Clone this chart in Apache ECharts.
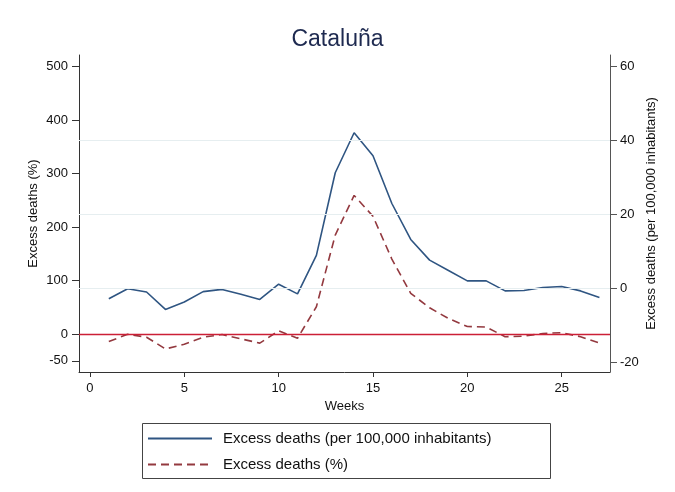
<!DOCTYPE html>
<html>
<head>
<meta charset="utf-8">
<script src="https://cdn.jsdelivr.net/npm/echarts@6/dist/echarts.min.js"></script>
<style>
html,body{margin:0;padding:0;background:#fff;}
#chart{width:675px;height:492px;}
</style>
</head>
<body>
<div id="chart"></div>
<script>
const title = 'Cataluña';
const weeks = [1,2,3,4,5,6,7,8,9,10,11,12,13,14,15,16,17,18,19,20,21,22,23,24,25,26,27];
const excessPer100k = [-2.8,-0.1,-1.0,-5.7,-3.7,-0.9,-0.3,-1.6,-3.0,1.1,-1.5,8.9,31.2,42.0,35.8,22.9,13.2,7.6,4.8,2.0,2.0,-0.7,-0.6,0.2,0.5,-0.7,-2.5];
const excessPct = [-14,-0.5,-6,-28,-19,-6,-1,-9,-17,6,-8,51,185,259,220,140,76,49,29,14,13,-5,-4,1,2.5,-5,-17];
const xTicks = [0,5,10,15,20,25];
const leftTicks = [-50,0,100,200,300,400,500];
const rightTicks = [-20,0,20,40,60];
const rightGridValues = [0,20,40];
const zeroLineValue = 0;
const seriesNames = ['Excess deaths (per 100,000 inhabitants)', 'Excess deaths (%)'];
const axisNames = {x:'Weeks', left:'Excess deaths (%)', right:'Excess deaths (per 100,000 inhabitants)'};

const FONT = '"Liberation Sans", Arial, Helvetica, sans-serif';
const chart = echarts.init(document.getElementById('chart'), null, {renderer:'canvas'});

const axisLineStyle = {show:true, onZero:false, lineStyle:{color:'#333', width:1}};
const labelStyle = {color:'#111', fontSize:13, fontFamily:FONT};

chart.setOption({
  backgroundColor:'#ffffff',
  animation:false,
  title:{
    text:title, left:'center', top:23,
    textStyle:{fontSize:23, fontWeight:'normal', color:'#1e2a50', fontFamily:FONT}
  },
  grid:{left:79, right:65, top:55, bottom:120},
  graphic:[{
    type:'rect', left:140, top:421,
    shape:{width:408, height:55},
    style:{fill:'none', stroke:'#444', lineWidth:1}
  }],
  legend:{
    orient:'vertical', left:140, top:421, padding:[10,7,6,7],
    itemWidth:64, itemHeight:14, itemGap:11,
    data:seriesNames.map(n => ({name:n, itemStyle:{opacity:0}})),
    textStyle:{fontSize:15, color:'#111', fontFamily:FONT, padding:[0,0,0,6]}
  },
  xAxis:{
    type:'value', min:-0.58, max:27.56,
    name:axisNames.x, nameLocation:'middle', nameGap:28,
    nameTextStyle:{fontSize:13, color:'#111', fontFamily:FONT},
    axisLine:axisLineStyle,
    axisTick:{show:true, length:5, customValues:xTicks, lineStyle:{color:'#333'}},
    axisLabel:Object.assign({customValues:xTicks, margin:10}, labelStyle),
    splitLine:{show:false}
  },
  yAxis:[{
    type:'value', min:-71, max:521.5, position:'left',
    name:axisNames.left, nameLocation:'middle', nameGap:39, nameRotate:90,
    nameMoveOverlap:false,
    nameTextStyle:{fontSize:13, color:'#111', fontFamily:FONT},
    axisLine:axisLineStyle,
    axisTick:{show:true, length:7, customValues:leftTicks, lineStyle:{color:'#333'}},
    axisLabel:Object.assign({customValues:leftTicks, margin:11}, labelStyle),
    splitLine:{show:false}
  },{
    type:'value', min:-22.6, max:63, position:'right',
    name:axisNames.right, nameLocation:'middle', nameGap:35, nameRotate:90,
    nameMoveOverlap:false,
    nameTextStyle:{fontSize:13, color:'#111', fontFamily:FONT},
    axisLine:{show:true, onZero:false, lineStyle:{color:'#555', width:1}},
    axisTick:{show:true, length:7, customValues:rightTicks, lineStyle:{color:'#555'}},
    axisLabel:Object.assign({customValues:rightTicks, margin:10}, labelStyle),
    splitLine:{show:false}
  }],
  series:[{
    name:'grid', type:'line', yAxisIndex:1, data:[], z:1, silent:true,
    markLine:{
      silent:true, symbol:'none', label:{show:false},
      lineStyle:{color:'#e6eef0', width:1.2, type:'solid'},
      data:rightGridValues.map(v => ({yAxis:v}))
    }
  },{
    name:seriesNames[0], type:'line', yAxisIndex:1, z:4,
    symbol:'none', showSymbol:false,
    lineStyle:{color:'#2f5582', width:1.6},
    itemStyle:{color:'#2f5582'},
    data:weeks.map((w,i) => [w, excessPer100k[i]])
  },{
    name:seriesNames[1], type:'line', yAxisIndex:0, z:3,
    symbol:'none', showSymbol:false,
    lineStyle:{color:'#93393f', width:1.6, type:[8,5]},
    itemStyle:{color:'#93393f'},
    data:weeks.map((w,i) => [w, excessPct[i]]),
    markLine:{
      silent:true, symbol:'none', label:{show:false},
      lineStyle:{color:'#cc1f36', width:1.3, type:'solid'},
      data:[{yAxis:zeroLineValue}]
    }
  }]
});
</script>
</body>
</html>
